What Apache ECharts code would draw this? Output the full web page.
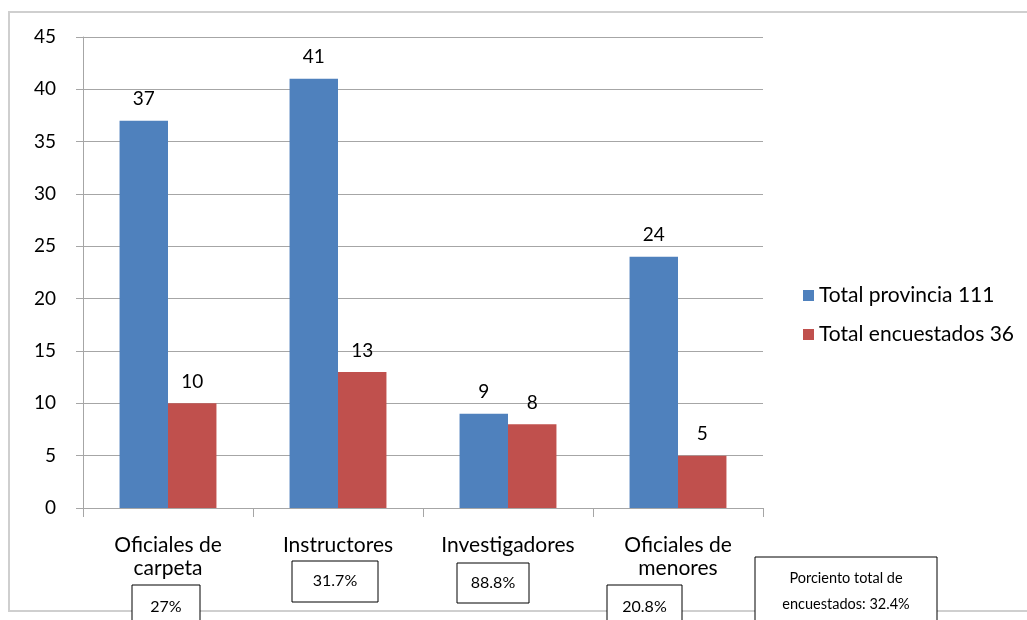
<!DOCTYPE html>
<html>
<head>
<meta charset="utf-8">
<script src="https://cdn.jsdelivr.net/npm/echarts@6/dist/echarts.min.js"></script>
<style>
html,body{margin:0;padding:0;background:#fff;}
#chart{width:1027px;height:620px;}
</style>
</head>
<body>
<div id="chart"></div>
<script>
var categories = ['Oficiales de\ncarpeta', 'Instructores', 'Investigadores', 'Oficiales de\nmenores'];
var seriesNames = ['Total provincia 111', 'Total encuestados 36'];
var provinciaValues = [37, 41, 9, 24];
var encuestadosValues = [10, 13, 8, 5];
var yTicks = {min: 0, max: 45, interval: 5};
var boxTexts = ['27%', '31.7%', '88.8%', '20.8%', 'Porciento total de\nencuestados: 32.4%'];

var FONT = 'Lato';
var chart = echarts.init(document.getElementById('chart'));

function box(x, y, w, h, text, ty, fs, lh) {
  return {
    type: 'group',
    children: [
      {type: 'rect', shape: {x: x, y: y, width: w, height: h},
       style: {fill: '#fff', stroke: '#000', lineWidth: 1}},
      {type: 'text', x: x + w / 2, y: ty,
       style: {text: text, fill: '#000', font: fs + 'px ' + FONT,
               textAlign: 'center', textVerticalAlign: 'middle',
               lineHeight: lh || 16}}
    ]
  };
}

var option = {
  backgroundColor: '#fff',
  animation: false,
  textStyle: {fontFamily: FONT},
  grid: {left: 83, top: 37, right: 264, bottom: 112, containLabel: false},
  legend: {
    orient: 'vertical',
    left: 798, top: 280,
    itemWidth: 11, itemHeight: 11, itemGap: 18,
    icon: 'rect',
    textStyle: {fontSize: 21, color: '#000', fontFamily: FONT},
    data: seriesNames
  },
  xAxis: {
    type: 'category',
    data: categories,
    axisLine: {lineStyle: {color: '#a6a6a6', width: 1}},
    axisTick: {show: true, length: 9, lineStyle: {color: '#a6a6a6'}},
    axisLabel: {fontSize: 21, color: '#000', margin: 26, lineHeight: 23, fontFamily: FONT, interval: 0},
    splitLine: {show: false}
  },
  yAxis: {
    type: 'value',
    min: yTicks.min, max: yTicks.max, interval: yTicks.interval,
    axisLine: {show: true, lineStyle: {color: '#a6a6a6'}},
    axisTick: {show: true, length: 7, lineStyle: {color: '#a6a6a6'}},
    axisLabel: {fontSize: 19, color: '#000', margin: 27, fontFamily: FONT},
    splitLine: {show: true, lineStyle: {color: '#a6a6a6', width: 1}}
  },
  series: [
    {
      name: seriesNames[0], type: 'bar', data: provinciaValues,
      barGap: '0%', barCategoryGap: '43%',
      itemStyle: {color: '#4F81BD'},
      label: {show: true, position: 'top', distance: 12, fontSize: 19, color: '#000', fontFamily: FONT}
    },
    {
      name: seriesNames[1], type: 'bar', data: encuestadosValues,
      barGap: '0%', barCategoryGap: '43%',
      itemStyle: {color: '#C0504D'},
      label: {show: true, position: 'top', distance: 12, fontSize: 19, color: '#000', fontFamily: FONT}
    }
  ],
  graphic: [
    {type: 'rect', z: -10, shape: {x: 9, y: 12, width: 1030, height: 599},
     style: {fill: 'none', stroke: '#cfcfcf', lineWidth: 2}},
    box(132, 585, 68, 50, boxTexts[0], 607, 16),
    box(292, 561, 86, 41, boxTexts[1], 581, 16),
    box(457, 563, 72, 40, boxTexts[2], 583, 16),
    box(607, 585, 75, 50, boxTexts[3], 607, 16),
    box(755, 557, 182, 80, boxTexts[4], 591, 14.5, 26)
  ]
};
chart.setOption(option);
</script>
</body>
</html>
